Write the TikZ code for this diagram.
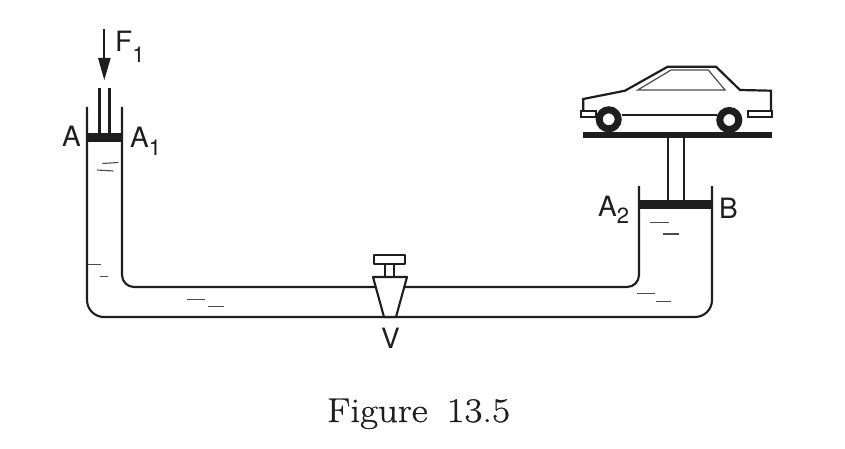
\documentclass[tikz,border=0pt]{standalone}
\usepackage{fontspec}
\newfontfamily\lbfam{TeX Gyre Heros}
\newfontfamily\cpfam[FakeBold=0.8,FakeStretch=1.13]{Latin Modern Roman}
\newcommand{\labfont}{\lbfam\fontsize{28}{30}\selectfont}
\newcommand{\capfont}{\cpfam\fontsize{34.5}{36}\selectfont}
\newcommand{\subfont}[2]{\raisebox{-#1pt}{\fontsize{22}{23}\selectfont #2}}
\definecolor{ink}{HTML}{1E1E1E}
\tikzset{
  wall/.style={draw=ink,line width=2.1pt,line join=round},
  liquid/.style={draw=ink!80,line width=1.1pt},
  piston/.style={fill=ink,draw=none},
  lab/.style={font=\labfont,text=ink,inner sep=0pt,anchor=base west},
  carline/.style={draw=ink,line width=2.2pt,line join=miter},
  wheelring/.style={draw=ink,line width=7pt,fill=white},
}
\begin{document}
\begin{tikzpicture}[x=1pt,y=-1pt]
\useasboundingbox[fill=white] (0,0) rectangle (845,449);
% tube: outer wall
\draw[wall,rounded corners=17pt] (87,107) -- (87,317) -- (712,317) -- (712,186);
% tube: inner wall
\draw[wall,rounded corners=12pt] (122,107) -- (122,287) -- (375,287);
\draw[wall,rounded corners=12pt] (405,287) -- (639,287) -- (639,186);
% left piston and rod
\fill[piston] (87,133) rectangle (122,142);
\draw[wall] (99.5,88) -- (99.5,133) (109.5,88) -- (109.5,133);
% force arrow
\draw[draw=ink,line width=2pt] (104,29) -- (104,60);
\fill[ink] (98,58) -- (110.7,58) -- (104.3,80) -- cycle;
% right piston and rod
\fill[piston] (639,200) rectangle (712,209);
\draw[wall] (668,137) -- (668,200) (684,137) -- (684,200);
% valve
\draw[wall,fill=white] (373,277) -- (407,277) -- (396,317) -- (384,317) -- cycle;
\draw[wall] (385,264) -- (385,277) (394,264) -- (394,277);
\draw[wall] (374,255) rectangle (405,264);
% liquid marks
\draw[liquid] (102.3,163.5) -- (118.3,162.5);
\draw[liquid] (97,170) -- (113.3,171);
\draw[liquid] (88.3,264.7) -- (100.7,264.7);
\draw[liquid] (100,276.3) -- (107.7,276.3);
\draw[liquid] (187.3,299.7) -- (205,299.7);
\draw[liquid] (208.3,306.7) -- (224,306.7);
\draw[liquid] (650,222.7) -- (668.7,222.7);
\draw[liquid] (663.3,234) -- (678.7,234);
\draw[liquid] (637.3,293.3) -- (655,293.3);
\draw[liquid] (656,301.7) -- (671.3,301.7);
% car
\draw[carline] (583.3,111) -- (583.3,99) -- (625,90.7) -- (667.7,66.7) -- (716,66.7) -- (740,90) -- (771,90.7) -- (771,111);
\draw[carline] (580.7,111) rectangle (596,117.3);
\draw[carline] (747.7,111) rectangle (771.7,116.7);
\draw[carline] (621.7,115.3) -- (716.7,115.3);
\draw[draw=ink!80,line width=1.2pt] (637.7,90) -- (671,70) -- (708.3,70) -- (725,90) -- cycle;
\draw[wheelring] (608.7,119.3) circle[radius=9.5];
\draw[wheelring] (729.3,120) circle[radius=9.5];
\fill[ink] (583,132.2) rectangle (772,137.8);
% labels
\node[lab] (lA) at (62,147) {A};
\node[lab] (lAa) at (130,148) {A\subfont{8}{1}};
\node[lab] (lF) at (115,52) {F\subfont{11}{1}};
\node[lab] (lAb) at (598,216) {A\subfont{7}{2}};
\node[lab] (lB) at (719,218) {B};
\node[lab] (lV) at (381,348) {V};
\node[font=\capfont,text=ink,inner sep=0pt,anchor=base] (cap) at (418.5,422) {Figure\hspace{19pt}13.5};
\end{tikzpicture}
\end{document}
